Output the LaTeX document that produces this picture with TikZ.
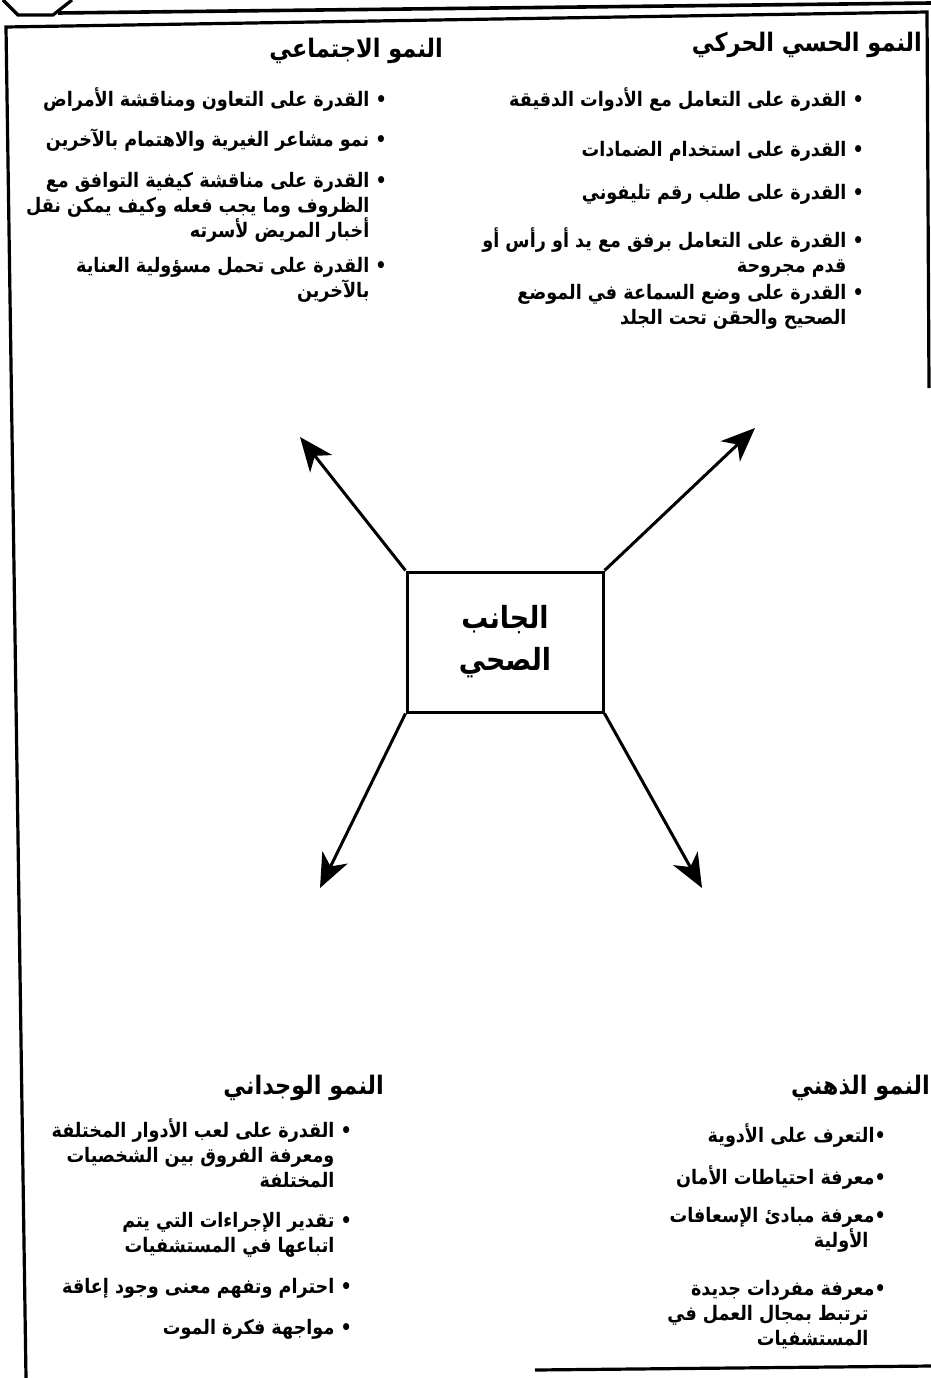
\documentclass[tikz,border=0pt]{standalone}
\usepackage{fontspec}
\newfontfamily\arabicfont[Script=Arabic,FakeStretch=0.88]{DejaVu Sans}
\TeXXeTstate=1
\usetikzlibrary{arrows.meta,positioning}
\newcommand{\rl}[1]{\beginR #1\endR}
\newcommand{\ind}{\phantom{• }}
\tikzset{
  frameline/.style={line width=3.2pt},
  heading/.style={font=\arabicfont\bfseries\fontsize{25.5}{30}\selectfont,anchor=east,inner sep=0pt},
  item/.style={font=\arabicfont\bfseries\fontsize{20}{25}\selectfont,anchor=north east,align=right,inner sep=0pt},
  arr/.style={line width=3pt,-{Stealth[length=34pt,width=28pt,inset=10pt]}}
}

\begin{document}
\begin{tikzpicture}[x=1pt,y=-1pt]
  \useasboundingbox (0,0) rectangle (931,1378);
  % page frame
  \draw[frameline] (3,0) -- (18,15) -- (53,15) -- (72,0);
  \draw[line width=3.6pt] (58,13) -- (931,3);
  \draw[frameline] (26,1378) -- (6,27) -- (927,12) -- (929,388);
  \draw[frameline] (535,1370) -- (931,1366);
  % centre box
  \node[draw,line width=3pt,minimum width=196pt,minimum height=140pt,align=center,
        font=\arabicfont\bfseries\fontsize{30.5}{42}\selectfont] (health) at (505,642)
        {\rl{الجانب}\\\rl{الصحي}};
  \coordinate (ul) at (300,437);
  \coordinate (ur) at (755,428);
  \coordinate (ll) at (320,888);
  \coordinate (lr) at (702,888);
  \draw[arr] (health.north west) -- (ul);
  \draw[arr] (health.north east) -- (ur);
  \draw[arr] (health.south west) -- (ll);
  \draw[arr] (health.south east) -- (lr);
  % sensory-motor
  \node[heading] (trh) at (922,45) {\rl{النمو الحسي الحركي}};
  \foreach \i/\y/\txt in {1/87/{\rl{• القدرة على التعامل مع الأدوات الدقيقة}},
      2/141/{\rl{• القدرة على استخدام الضمادات}},
      3/184/{\rl{• القدرة على طلب رقم تليفوني}},
      4/227/{\rl{• القدرة على التعامل برفق مع يد أو رأس أو}\\\rl{\ind قدم مجروحة}},
      5/284/{\rl{• القدرة على وضع السماعة في الموضع}\\\rl{\ind الصحيح والحقن تحت الجلد}}}{
    \node[item] (tr\i) at (864,\y) {\txt};
  }
  % social
  \node[heading] (tlh) at (443,51) {\rl{النمو الاجتماعي}};
  \foreach \i/\y/\txt in {1/87/{\rl{• القدرة على التعاون ومناقشة الأمراض}},
      2/129/{\rl{• نمو مشاعر الغيرية والاهتمام بالآخرين}},
      3/172/{\rl{• القدرة على مناقشة كيفية التوافق مع}\\\rl{\ind الظروف وما يجب فعله وكيف يمكن نقل}\\\rl{\ind أخبار المريض لأسرته}},
      4/257/{\rl{• القدرة على تحمل مسؤولية العناية}\\\rl{\ind بالآخرين}}}{
    \node[item] (tl\i) at (387,\y) {\txt};
  }
  % emotional
  \node[heading] (blh) at (384,1088) {\rl{النمو الوجداني}};
  \foreach \i/\y/\txt in {1/1118/{\rl{• القدرة على لعب الأدوار المختلفة}\\\rl{\ind ومعرفة الفروق بين الشخصيات}\\\rl{\ind المختلفة}},
      2/1212/{\rl{• تقدير الإجراءات التي يتم}\\\rl{\ind اتباعها في المستشفيات}},
      3/1278/{\rl{• احترام وتفهم معنى وجود إعاقة}},
      4/1319/{\rl{• مواجهة فكرة الموت}}}{
    \node[item] (bl\i) at (352,\y) {\txt};
  }
  % mental
  \node[heading] (brh) at (930,1088) {\rl{النمو الذهني}};
  \foreach \i/\y/\txt in {1/1123/{\rl{•التعرف على الأدوية}},
      2/1165/{\rl{•معرفة احتياطات الأمان}},
      3/1207/{\rl{•معرفة مبادئ الإسعافات}\\\rl{\ind الأولية}},
      4/1280/{\rl{•معرفة مفردات جديدة}\\\rl{\ind ترتبط بمجال العمل في}\\\rl{\ind المستشفيات}}}{
    \node[item] (br\i) at (886,\y) {\txt};
  }
\end{tikzpicture}
\end{document}
